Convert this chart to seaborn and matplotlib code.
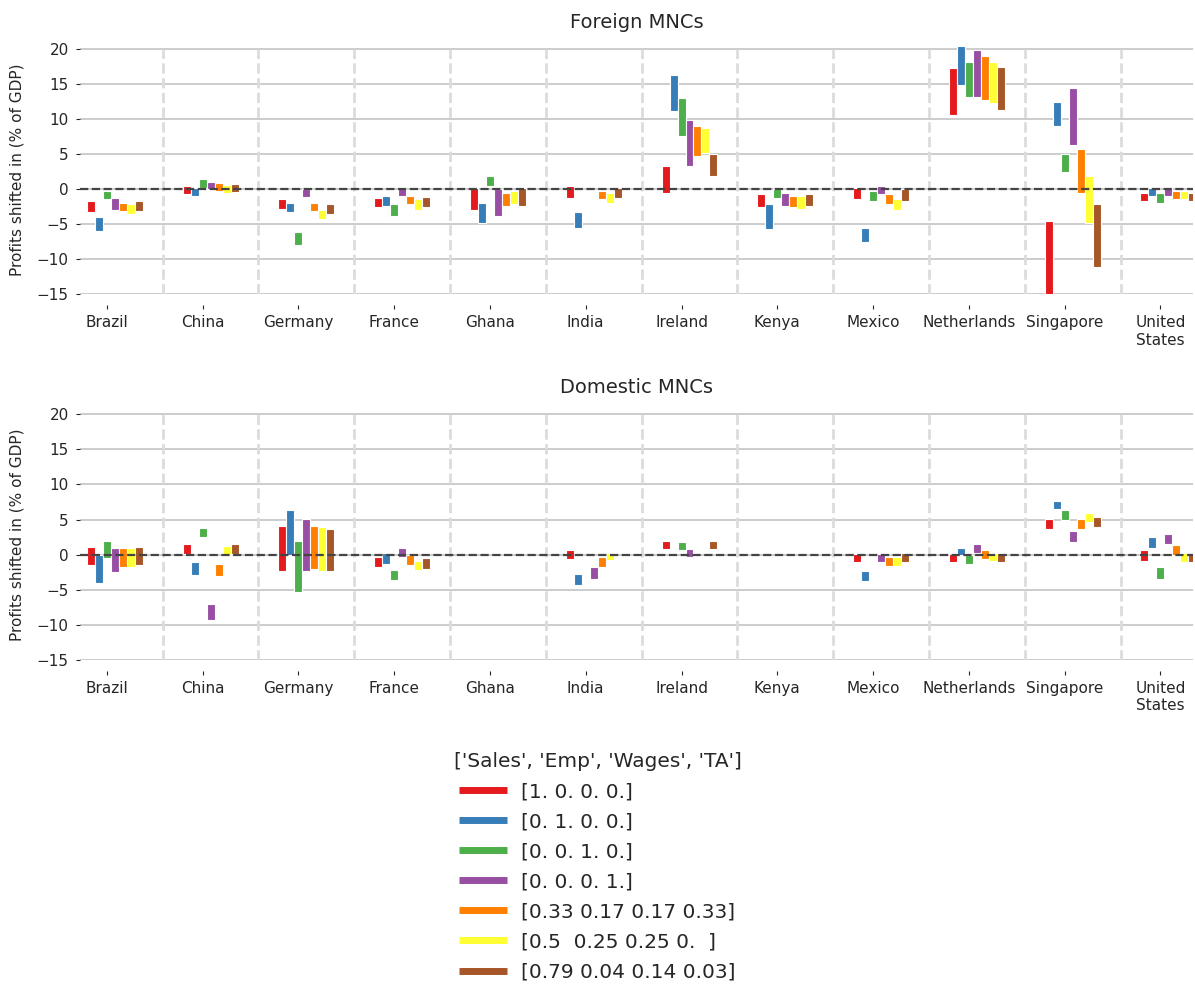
import numpy as np
import matplotlib
matplotlib.use("Agg")
import matplotlib.pyplot as plt
from matplotlib.lines import Line2D
import seaborn as sns

nan = np.nan

countries = ["Brazil", "China", "Germany", "France", "Ghana", "India", "Ireland",
             "Kenya", "Mexico", "Netherlands", "Singapore", "United States"]
tick_labels = ["Brazil", "China", "Germany", "France", "Ghana", "India", "Ireland",
               "Kenya", "Mexico", "Netherlands", "Singapore", "United\nStates"]
weight_labels = ["[1. 0. 0. 0.]", "[0. 1. 0. 0.]", "[0. 0. 1. 0.]", "[0. 0. 0. 1.]",
                 "[0.33 0.17 0.17 0.33]", "[0.5  0.25 0.25 0.  ]",
                 "[0.79 0.04 0.14 0.03]"]
legend_title = "['Sales', 'Emp', 'Wages', 'TA']"
panel_titles = ["Foreign MNCs", "Domestic MNCs"]
y_label = "Profits shifted in (% of GDP)"

# Range of profits shifted, one row per weighting scheme, one column per country
foreign_low = [
    [-3.3, -0.7, -2.8, -2.6, -2.9, -1.2, -0.5, -2.6, -1.4, 10.6, -16.0, -1.7],
    [-5.9, -0.9, -3.3, -2.4, -4.8, -5.5, 11.2, -5.7, -7.6, 14.9, 9.0, -0.9],
    [-1.4, 0.2, -8.0, -3.8, 0.5, nan, 7.6, -1.2, -1.7, 13.2, 2.4, -1.9],
    [-2.9, 0.05, -1.1, -0.9, -3.8, nan, 3.3, -2.4, -0.7, 13.2, 6.3, -0.9],
    [-3.1, -0.2, -3.1, -2.1, -2.4, -1.4, 4.8, -2.6, -2.1, 12.8, -0.5, -1.4],
    [-3.6, -0.5, -4.3, -2.9, -2.1, -1.9, 5.2, -2.8, -2.9, 12.3, -4.8, -1.4],
    [-3.1, -0.4, -3.6, -2.6, -2.4, -1.2, 1.9, -2.4, -1.7, 11.3, -11.1, -1.7],
]
foreign_high = [
    [-1.7, 0.5, -1.4, -1.2, 0.2, 0.5, 3.3, -0.7, 0.2, 17.3, -4.5, -0.5],
    [-4.0, 0.2, -1.9, -0.9, -1.9, -3.3, 16.3, -2.1, -5.5, 20.4, 12.5, 0.2],
    [-0.2, 1.4, -6.1, -2.1, 1.9, nan, 13.0, 0.0, -0.2, 18.2, 5.1, -0.5],
    [-1.2, 1.1, 0.1, 0.2, 0.1, nan, 9.9, -0.5, 0.5, 19.9, 14.4, 0.2],
    [-1.9, 0.9, -1.9, -0.9, -0.5, -0.2, 9.0, -0.9, -0.7, 19.0, 5.7, -0.2],
    [-2.1, 0.6, -2.9, -1.4, -0.2, -0.5, 8.7, -0.9, -1.4, 18.2, 1.9, -0.2],
    [-1.7, 0.7, -2.1, -1.1, 0.2, 0.2, 5.1, -0.7, 0.1, 17.5, -2.1, -0.5],
]
domestic_low = [
    [-1.5, 0.1, -2.3, -1.8, nan, -0.6, 0.8, nan, -1.1, -1.1, 3.7, -0.9],
    [-4.1, -2.9, 0.0, -1.3, nan, -4.3, nan, nan, -3.7, -0.1, 6.5, 1.0],
    [-0.5, 2.5, -5.3, -3.6, nan, nan, 0.6, nan, nan, -1.3, 4.9, -3.5],
    [-2.4, -9.3, -2.3, -0.3, nan, -3.4, -0.4, nan, -1.1, 0.3, 1.8, 1.5],
    [-1.7, -3.1, -2.0, -1.5, nan, -1.8, nan, nan, -1.6, -0.6, 3.7, 0.0],
    [-1.7, 0.0, -2.3, -2.2, nan, -0.8, nan, nan, -1.6, -0.9, 4.6, -1.1],
    [-1.5, 0.1, -2.3, -2.0, nan, nan, 0.8, nan, -1.1, -1.1, 3.9, -1.1],
]
domestic_high = [
    [1.1, 1.5, 4.1, -0.3, nan, 0.6, 2.0, nan, 0.1, 0.1, 5.1, 0.6],
    [0.0, -1.1, 6.3, 0.2, nan, -2.8, nan, nan, -2.3, 1.0, 7.7, 2.5],
    [2.0, 3.8, 2.0, -2.2, nan, nan, 1.8, nan, nan, 0.0, 6.3, -1.8],
    [0.9, -7.0, 5.1, 1.0, nan, -1.8, 0.8, nan, 0.1, 1.5, 3.4, 3.0],
    [0.9, -1.3, 4.1, 0.0, nan, -0.4, nan, nan, -0.4, 0.6, 5.1, 1.4],
    [0.9, 1.3, 3.9, -0.9, nan, 0.3, nan, nan, -0.4, 0.3, 6.0, 0.3],
    [1.1, 1.5, 3.7, -0.5, nan, nan, 2.0, nan, 0.2, 0.2, 5.3, 0.3],
]

sns.set_style("whitegrid")
palette = sns.color_palette("Set1", len(weight_labels))
plt.rcParams["font.family"] = ["DejaVu Sans"]
text_color = "#262626"

W, H = 1195, 990
fig = plt.figure(figsize=(W / 100, H / 100), dpi=100)

y_min, y_max = -15, 20.6
x_min, x_max = -0.28, 11.34
bar_w = 1 / 12


def axes_rect(bottom_px, top_px, left_px=80, right_px=1193):
    return [left_px / W, 1 - bottom_px / H, (right_px - left_px) / W,
            (bottom_px - top_px) / H]


panels = [
    (axes_rect(294.3, 45.0), foreign_low, foreign_high, panel_titles[0]),
    (axes_rect(660.0, 410.0), domestic_low, domestic_high, panel_titles[1]),
]

x_base = np.arange(len(countries))
for rect, lows, highs, title in panels:
    ax = fig.add_axes(rect)
    ax.set_facecolor("white")
    for k, (lo, hi) in enumerate(zip(lows, highs)):
        lo = np.asarray(lo, dtype=float)
        hi = np.asarray(hi, dtype=float)
        ok = ~np.isnan(lo) & ~np.isnan(hi)
        ax.bar(x_base[ok] + (k - 2) * bar_w, hi[ok] - lo[ok], bottom=lo[ok],
               width=bar_w, color=palette[k], edgecolor="white", linewidth=0.8,
               zorder=3)
    # separators between countries
    ax.vlines(x_base[:-1] + 7 / 12, -15, 20, colors="#dcdcdc", linewidth=2.0,
              linestyles="--", zorder=1)
    ax.axhline(0, color="#444444", linestyle="--", linewidth=1.6, zorder=4)

    ax.set_xlim(x_min, x_max)
    ax.set_ylim(y_min, y_max)
    ax.set_yticks(np.arange(-15, 21, 5))
    ax.set_xticks(x_base)
    ax.set_xticklabels(tick_labels)
    ax.xaxis.grid(False)
    ax.yaxis.grid(True, color="#cccccc", linewidth=1.4, zorder=0)
    for side in ["top", "right", "left", "bottom"]:
        ax.spines[side].set_visible(False)
    ax.spines["bottom"].set_position(("outward", 8))
    ax.tick_params(axis="x", bottom=True, direction="out", length=3, width=0.8,
                   color=text_color, labelsize=11, labelcolor=text_color, pad=4)
    ax.tick_params(axis="y", left=True, direction="out", length=3, width=0.8,
                   color=text_color, labelsize=11, labelcolor=text_color, pad=5)
    ax.set_ylabel(y_label, fontsize=11, color=text_color, labelpad=9)
    ax.set_title(title, fontsize=14, color=text_color, pad=12)

handles = [Line2D([0], [0], color=c, linewidth=5, solid_capstyle="butt")
           for c in palette]
leg = fig.legend(handles, weight_labels, title=legend_title, loc="upper center",
                 bbox_to_anchor=(0.5, 1 - 742 / H), frameon=False, fontsize=14.5,
                 title_fontsize=14.5, handlelength=2.4, handletextpad=0.7,
                 labelspacing=0.55, borderpad=0)
for t in leg.get_texts():
    t.set_color(text_color)
leg.get_title().set_color(text_color)

fig.savefig("out.png", dpi=100)
